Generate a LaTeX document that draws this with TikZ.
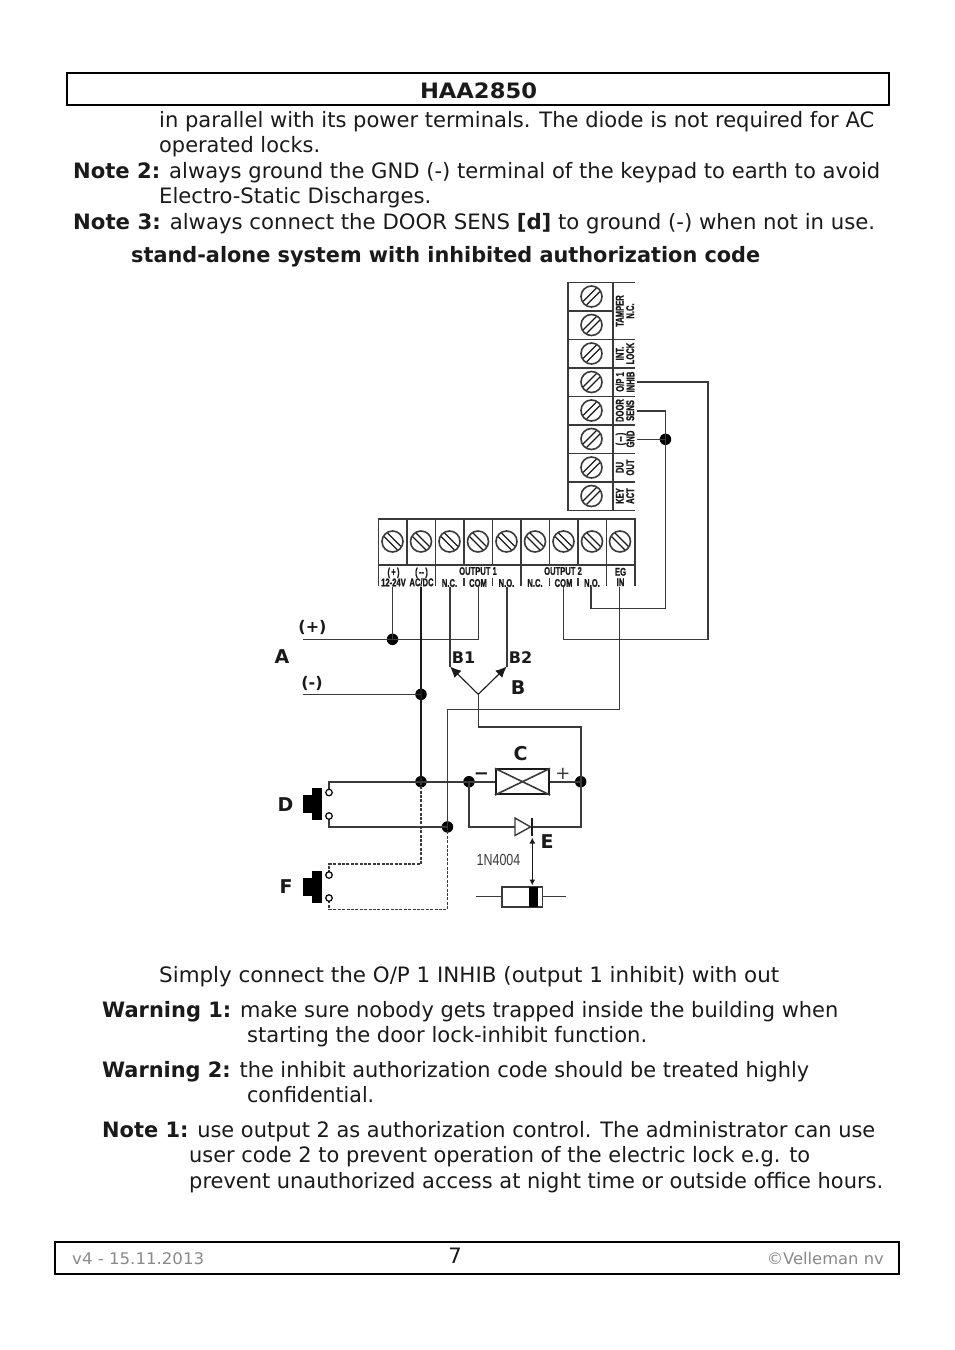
\documentclass[tikz,border=0pt]{standalone}
\usepackage{fontspec}
\setmainfont{DejaVu Sans}
\newfontfamily\tagfont[FakeBold=1.4]{Liberation Sans}
\usetikzlibrary{arrows.meta}
\definecolor{ink}{HTML}{1A1A1A}
\definecolor{wire}{HTML}{3A3A3A}
\definecolor{foot}{HTML}{8A8A8A}
\newcommand{\sq}[1]{\scalebox{0.68}[1]{#1}}
\newcommand{\fitw}[2]{\resizebox{#1pt}{\height}{#2}}
\tikzset{
  line/.style={anchor=base west,inner sep=0pt,text=ink,font=\fontsize{21.2}{25}\selectfont},
  head/.style={line,font=\fontsize{21.2}{25}\selectfont\bfseries},
  footer/.style={anchor=base west,inner sep=0pt,text=foot,font=\fontsize{16}{20}\selectfont},
  box/.style={draw=black,line width=1.4pt},
  wired/.style={draw=wire,line width=1.6pt},
  main/.style={draw=ink,line width=1.6pt},
  dashw/.style={draw=wire,line width=1.4pt,dash pattern=on 3pt off 1.4pt},
  dot/.style={circle,fill=black,inner sep=0pt,minimum size=11.5pt},
  term/.style={circle,draw=black,fill=white,line width=1.2pt,inner sep=0pt,minimum size=6.5pt},
  screw/.style={circle,draw=wire,line width=1.6pt,inner sep=0pt,minimum size=21pt},
  grid/.style={draw=wire,line width=1.6pt},
  tag/.style={font=\tagfont\fontsize{11.2}{12}\selectfont\bfseries,text=ink,inner sep=0pt,align=center},
  letter/.style={font=\fontsize{19}{22}\selectfont\bfseries,text=ink,inner sep=0pt},
  small/.style={font=\fontsize{16}{18}\selectfont\bfseries,text=ink,inner sep=0pt},
  tip/.style={-{Latex[length=11pt,width=10pt]},draw=ink,fill=black,line width=1.1pt},
  btn/.style={fill=black,draw=none}
}
\begin{document}
\begin{tikzpicture}[x=1pt,y=-1pt]
\useasboundingbox (0,0) rectangle (954,1350);
\fill[white] (0,0) rectangle (954,1350);

% header
\draw[box] (67,73) rectangle (889,105);
\node[head,anchor=base] (title) at (478.5,98) {\fitw{117}{HAA2850}};
\node[line] (t1) at (159,127) {\fitw{715}{in parallel with its power terminals. The diode is not required for AC}};
\node[line] (t2) at (159,152) {\fitw{161}{operated locks.}};
\node[line] (t3) at (73,178) {\fitw{807}{\textbf{Note 2:} always ground the GND (-) terminal of the keypad to earth to avoid}};
\node[line] (t4) at (159,203) {\fitw{272}{Electro-Static Discharges.}};
\node[line] (t5) at (73,229) {\fitw{802}{\textbf{Note 3:} always connect the DOOR SENS \textbf{[d]} to ground (-) when not in use.}};
\node[head] (t6) at (131,262) {\fitw{629}{stand-alone system with inhibited authorization code}};

% right terminal block
\draw[grid] (635,282.3) -- (568,282.3) -- (568,510.3) -- (635,510.3);
\draw[grid] (613,282.3) -- (613,510.3);
\foreach \y in {310.8,339.3,367.8,396.3,424.8,453.3,481.8}{\draw[grid] (568,\y) -- (613,\y);}
\foreach \y in {339.3,367.8,396.3,424.8,453.3,481.8}{\draw[grid] (613,\y) -- (635,\y);}
\foreach \n/\y in {1/296.5,2/325,3/353.5,4/382,5/410.5,6/439,7/467.5,8/496}{
  \node[screw] (rs\n) at (591.5,\y) {};
  \draw[draw=ink,line width=1.3pt] (591.5-8.3,\y+4.8) -- (591.5+4.8,\y-8.3);
  \draw[draw=ink,line width=1.3pt] (591.5-4.8,\y+8.3) -- (591.5+8.3,\y-4.8);
}
\node[tag,rotate=90] (rl1) at (625,311) {\sq{TAMPER}\\[-1.5pt]\sq{N.C.}};
\node[tag,rotate=90] (rl2) at (625,353.5) {\sq{INT.}\\[-1.5pt]\sq{LOCK}};
\node[tag,rotate=90] (rl3) at (625,382) {\sq{O/P 1}\\[-1.5pt]\sq{INHIB}};
\node[tag,rotate=90] (rl4) at (625,410.5) {\sq{DOOR}\\[-1.5pt]\sq{SENS}};
\node[tag,rotate=90] (rl5) at (625,439) {\sq{(\,--\,)}\\[-1.5pt]\sq{GND}};
\node[tag,rotate=90] (rl6) at (625,467.5) {\sq{DU}\\[-1.5pt]\sq{OUT}};
\node[tag,rotate=90] (rl7) at (625,496) {\sq{KEY}\\[-1.5pt]\sq{ACT}};

% bottom terminal block
\draw[grid] (378.3,586) -- (378.3,519) -- (635,519) -- (635,586);
\draw[grid] (378.3,565) -- (635,565);
\foreach \x in {406.8,435.3,463.8,492.3,520.8,549.3,577.8,606.3}{\draw[grid] (\x,519) -- (\x,565);}
\draw[grid] (435.3,565) -- (435.3,586);
\draw[grid] (463.8,577.5) -- (463.8,586);
\draw[grid] (492.3,577.5) -- (492.3,586);
\draw[grid] (520.8,565) -- (520.8,586);
\draw[grid] (549.3,577.5) -- (549.3,586);
\draw[grid] (577.8,577.5) -- (577.8,586);
\draw[grid] (606.3,565) -- (606.3,586);
\foreach \n/\x in {1/392.5,2/421,3/449.5,4/478,5/506.5,6/535,7/563.5,8/592,9/620}{
  \node[screw] (bs\n) at (\x,541.5) {};
  \draw[draw=ink,line width=1.3pt] (\x-8.3,541.5-4.8) -- (\x+4.8,541.5+8.3);
  \draw[draw=ink,line width=1.3pt] (\x-4.8,541.5-8.3) -- (\x+8.3,541.5+4.8);
}
\node[tag] (bl1) at (393.5,577) {\sq{(\,+\,)}\\[-1.5pt]\sq{12-24V}};
\node[tag] (bl2) at (421.5,577) {\sq{(\,--\,)}\\[-1.5pt]\sq{AC/DC}};
\node[tag] (bl3) at (478,571) {\sq{OUTPUT 1}};
\node[tag] (bl4) at (449.5,583) {\sq{N.C.}};
\node[tag] (bl5) at (478,583) {\sq{COM}};
\node[tag] (bl6) at (506.5,583) {\sq{N.O.}};
\node[tag] (bl7) at (563,571) {\sq{OUTPUT 2}};
\node[tag] (bl8) at (535,583) {\sq{N.C.}};
\node[tag] (bl9) at (563.5,583) {\sq{COM}};
\node[tag] (bl10) at (592,583) {\sq{N.O.}};
\node[tag] (bl11) at (620.5,577) {\sq{EG}\\[-1.5pt]\sq{IN}};

% named points
\coordinate (inhib) at (637,381.7);
\coordinate (sens) at (637,410.7);
\coordinate (gnd) at (637,439.3);
\coordinate (pa) at (392.5,587);
\coordinate (ma) at (421,587);
\coordinate (nc1) at (450,587);
\coordinate (com1) at (478.3,587);
\coordinate (no1) at (506.7,587);
\coordinate (com2) at (563.3,587);
\coordinate (no2) at (591,587);
\coordinate (eg) at (619.5,587);
\coordinate (plusend) at (302.7,639.3);
\coordinate (minusend) at (302.7,694.3);
\coordinate (fork) at (478.3,694.3);
\coordinate (b1) at (450,666.5);
\coordinate (b2) at (506.7,666.5);

\node[dot] (jgnd) at (665.5,439.3) {};
\node[dot] (jplus) at (392.5,639.3) {};
\node[dot] (jminus) at (421,694.3) {};
\node[dot] (jtop) at (421,781.7) {};
\node[dot] (jneg) at (469,781.7) {};
\node[dot] (jpos) at (580.7,781.7) {};
\node[dot] (jlow) at (447.5,826.9) {};

% wires
\draw[wired] (inhib) -- (708,381.7) -- (708,639.5) -- (563.3,639.5) -- (com2);
\draw[wired] (sens) -- (665.5,410.7) -- (jgnd.center);
\draw[wired] (gnd) -- (jgnd.center) -- (665.5,608.3) -- (591,608.3) -- (no2);
\draw[wired] (pa) -- (jplus.center);
\draw[wired] (plusend) -- (478.3,639.3) -- (com1);
\draw[main] (ma) -- (jtop.center);
\draw[wired] (minusend) -- (jminus.center);
\draw[wired] (nc1) -- (b1);
\draw[wired] (no1) -- (b2);
\draw[tip] (fork) -- (b1);
\draw[tip] (fork) -- (b2);
\draw[wired] (fork) -- (478.3,726.7) -- (580.7,726.7) -- (jpos.center);
\draw[wired] (eg) -- (619.5,709.3) -- (447.5,709.3) -- (jlow.center);

% lock C
\node[draw=ink,line width=1.7pt,minimum width=53.6pt,minimum height=25pt,inner sep=0pt,fill=white] (lock) at (522.5,781.7) {};
\draw[wired] (lock.north west) -- (lock.south east);
\draw[wired] (lock.south west) -- (lock.north east);
\draw[wired] (jtop.center) -- (lock.west);
\draw[wired] (lock.east) -- (jpos.center);
\node[font=\fontsize{18}{22}\selectfont\bfseries,text=ink,inner sep=0pt] (cminus) at (481.5,776.5) {−};
\node[font=\fontsize{18}{22}\selectfont,text=wire,inner sep=0pt] (cplus) at (563,773.5) {+};
\node[letter] (lc) at (520.5,754) {C};

% diode E
\coordinate (dl) at (515,826.9);
\coordinate (dr) at (532.3,826.9);
\draw[wired] (jneg.center) -- (469,826.9) -- (dl);
\draw[wired] (dr) -- (580.7,826.9) -- (jpos.center);
\draw[draw=wire,line width=1.4pt,fill=white] (515,818) -- (530.5,826.9) -- (515,835.5) -- cycle;
\draw[draw=ink,line width=1.7pt] (532.3,818) -- (532.3,836);
\node[letter] (le) at (547,842) {E};
\node[font=\fontsize{16}{18}\fontspec{Liberation Sans},text=wire,inner sep=0pt] (part) at (498.5,860) {\scalebox{0.78}[1]{1N4004}};

% diode package
\coordinate (pl) at (476,896.5);
\coordinate (pr) at (566,896.5);
\draw[wired,line width=1.2pt] (pl) -- (501.7,896.5);
\draw[wired,line width=1.2pt] (542.3,896.5) -- (pr);
\node[draw=wire,line width=1.6pt,minimum width=40.6pt,minimum height=20pt,inner sep=0pt] (pack) at (522,896.7) {};
\fill[black] (529,886.7) rectangle (538.3,906.7);
\draw[{Latex[length=6pt,width=6pt]}-{Latex[length=6pt,width=6pt]},draw=ink,line width=1.3pt] (532.3,837.5) -- (532.3,885.5);

% switch D
\coordinate (da) at (329,792.5);
\coordinate (db) at (329,816);
\draw[wired] (jtop.center) -- (329,781.7) -- (da);
\draw[wired] (jlow.center) -- (329,826.9) -- (db);
\node[term] (dta) at (da) {};
\node[term] (dtb) at (db) {};
\fill[btn] (312,788) rectangle (321.7,820);
\fill[btn] (303,795) rectangle (312,813);
\node[letter] (ld) at (285.5,805) {D};

% switch F
\coordinate (fa) at (329,875);
\coordinate (fb) at (329,898);
\draw[dashw] (jtop.center) -- (421,864) -- (329,864) -- (fa);
\draw[dashw] (jlow.center) -- (447.5,909.3) -- (329,909.3) -- (fb);
\node[term] (fta) at (fa) {};
\node[term] (ftb) at (fb) {};
\fill[btn] (312,870.5) rectangle (321.7,902.5);
\fill[btn] (303,877.5) rectangle (312,895.5);
\node[letter] (lf) at (286,887) {F};

% wire labels
\node[small] (lplus) at (312.5,627) {(+)};
\node[small] (lminus) at (312,683) {(-)};
\node[letter] (la) at (282,657) {A};
\node[small] (lb1) at (463.5,658) {B1};
\node[small] (lb2) at (520.5,658) {B2};
\node[letter] (lb) at (518,688) {B};

% lower text
\node[line] (u1) at (159,982) {\fitw{620}{Simply connect the O/P 1 INHIB (output 1 inhibit) with out}};
\node[line] (u2) at (102,1017) {\fitw{736}{\textbf{Warning 1:} make sure nobody gets trapped inside the building when}};
\node[line] (u3) at (247,1042) {\fitw{400}{starting the door lock-inhibit function.}};
\node[line] (u4) at (102,1077) {\fitw{707}{\textbf{Warning 2:} the inhibit authorization code should be treated highly}};
\node[line] (u5) at (247,1102) {\fitw{127}{confidential.}};
\node[line] (u6) at (102,1137) {\fitw{773}{\textbf{Note 1:} use output 2 as authorization control. The administrator can use}};
\node[line] (u7) at (189,1162) {\fitw{621}{user code 2 to prevent operation of the electric lock e.g. to}};
\node[line] (u8) at (189,1188) {\fitw{694}{prevent unauthorized access at night time or outside office hours.}};

% footer
\draw[box] (55,1242) rectangle (899,1274);
\node[footer] (f1) at (72,1264) {\fitw{132}{v4 - 15.11.2013}};
\node[line,anchor=base] (f2) at (455,1263) {7};
\node[footer,anchor=base east] (f3) at (884,1264) {\fitw{117}{©Velleman nv}};
\end{tikzpicture}
\end{document}
